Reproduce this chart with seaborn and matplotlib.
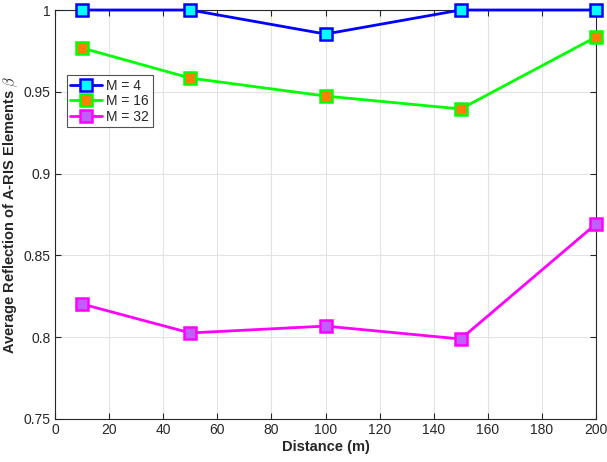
import matplotlib
matplotlib.use("Agg")
import matplotlib.pyplot as plt
import seaborn as sns
import pandas as pd

distance = [10, 50, 100, 150, 200]
m4 = [1.0, 1.0, 0.9853, 1.0, 1.0]
m16 = [0.9768, 0.9584, 0.9474, 0.9395, 0.9835]
m32 = [0.8203, 0.8026, 0.8068, 0.7989, 0.8692]
labels = ["M = 4", "M = 16", "M = 32"]

sns.set_theme(style="white")
plt.rcParams['font.family'] = ['Liberation Sans', 'DejaVu Sans']
plt.rcParams['mathtext.fontset'] = 'cm'

df = pd.DataFrame({
    "Distance": distance * 3,
    "value": m4 + m16 + m32,
    "series": [labels[0]] * 5 + [labels[1]] * 5 + [labels[2]] * 5,
})

line_colors = ["#0000FF", "#00FF00", "#FF00FF"]
face_colors = ["#00FFFF", "#FF8000", "#BF5FFF"]

fig = plt.figure(figsize=(6.07, 4.62), dpi=100)
ax = fig.add_axes([55/607, 43/462, 541/607, 409/462])

for lab, lc, fc in zip(labels, line_colors, face_colors):
    sub = df[df["series"] == lab]
    sns.lineplot(data=sub, x="Distance", y="value", ax=ax, color=lc, linewidth=2,
                 marker="s", markersize=8, markerfacecolor=fc, markeredgecolor=lc,
                 markeredgewidth=1.8, label=lab, clip_on=False, zorder=3)

ax.set_xlim(0, 200)
ax.set_ylim(0.75, 1.0)
ax.set_xticks(range(0, 201, 20))
ax.set_yticks([0.75, 0.8, 0.85, 0.9, 0.95, 1.0])
ax.set_yticklabels(["0.75", "0.8", "0.85", "0.9", "0.95", "1"])
ax.grid(True, color="#E3E3E3", linewidth=0.8)
ax.set_axisbelow(True)
for s in ax.spines.values():
    s.set_color("#262626")
    s.set_linewidth(0.8)
ax.tick_params(direction="in", length=4, width=0.8, colors="#262626", labelsize=10,
               top=True, right=True, bottom=True, left=True, pad=3)
ax.tick_params(axis="both", labelcolor="#262626")
ax.set_xlabel("Distance (m)", fontsize=10.5, fontweight="bold", labelpad=2)
ax.set_ylabel(r"Average Reflection of A-RIS Elements $\beta$", fontsize=10.5,
              fontweight="bold", labelpad=3)

leg = ax.legend(loc="upper left", bbox_to_anchor=(0.022, 0.84), fontsize=10,
                frameon=True, fancybox=False, edgecolor="#262626",
                handlelength=2.3, borderpad=0.25, labelspacing=0.1,
                handletextpad=0.3, borderaxespad=0)
leg.get_frame().set_linewidth(0.8)

fig.savefig("out.png", dpi=100, facecolor="white")
